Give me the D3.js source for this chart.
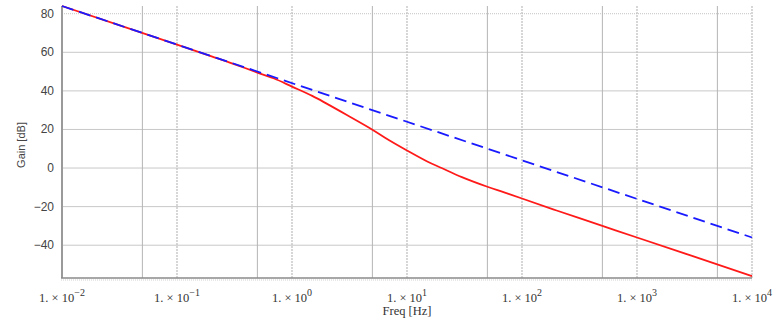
<!DOCTYPE html>
<html>
<head>
<meta charset="utf-8">
<script src="https://cdn.jsdelivr.net/npm/d3@7.9.0/dist/d3.min.js"></script>
<style>
  body { margin: 0; background: #fff; }
  svg { display: block; }
</style>
</head>
<body>
<svg id="chart" width="780" height="322"></svg>
<script>
// Frequency [Hz] vs gain [dB]
const decades = [-2, -1, 0, 1, 2, 3, 4];
const halfTicks = [0.05, 0.5, 5, 50, 500, 5000];
const gainTicks = [-40, -20, 0, 20, 40, 60, 80];

const redFreq = [0.01, 0.1, 0.2, 0.3, 0.5, 0.7, 1, 1.5, 2, 3, 5, 7, 10, 15, 20, 30, 50, 70, 100, 200, 500, 1000, 10000];
const redGain = [84, 64, 57.9, 54.3, 49.5, 46.4, 42.2, 37.4, 33.4, 27.5, 19.9, 14.4, 9.1, 3.4, 0, -4.7, -9.7, -12.6, -15.8, -22, -30, -36, -56];

const blueFreq = [0.01, 10000];
const blueGain = [84, -36];

const svg = d3.select('#chart');
const x = d3.scaleLog().domain([0.01, 1e4]).range([62, 752]);
const y = d3.scaleLinear().domain([-57, 84]).range([278, 6]);

// grid
const grid = svg.append('g');
grid.selectAll('line.h').data(gainTicks).join('line')
  .attr('x1', x.range()[0]).attr('x2', x.range()[1])
  .attr('y1', d => y(d)).attr('y2', d => y(d))
  .attr('stroke', d => d === 80 ? '#c4c4c4' : '#c8c8c8')
  .attr('stroke-dasharray', d => d === 80 ? '1,1' : null)
  .attr('stroke-width', 1);
grid.selectAll('line.v5').data(halfTicks).join('line')
  .attr('x1', d => x(d)).attr('x2', d => x(d))
  .attr('y1', y.range()[0]).attr('y2', y.range()[1])
  .attr('stroke', '#b4b4b4').attr('stroke-width', 1);
grid.selectAll('line.vd').data(decades.slice(1)).join('line')
  .attr('x1', d => x(Math.pow(10, d))).attr('x2', d => x(Math.pow(10, d)))
  .attr('y1', y.range()[0]).attr('y2', y.range()[1])
  .attr('stroke', '#bcbcbc').attr('stroke-dasharray', '2,1').attr('stroke-width', 1.2);

// axes frame
svg.append('line').attr('x1', 62).attr('x2', 62).attr('y1', 278).attr('y2', 6)
  .attr('stroke', '#9a9a9a').attr('stroke-width', 2);
svg.append('line').attr('x1', 61).attr('x2', 752).attr('y1', 278).attr('y2', 278)
  .attr('stroke', '#8a8a8a').attr('stroke-width', 1.5);
svg.append('line').attr('x1', 61).attr('x2', 752).attr('y1', 280).attr('y2', 280)
  .attr('stroke', '#cfcfcf').attr('stroke-dasharray', '1,1');

// y tick labels
svg.append('g').selectAll('text').data(gainTicks).join('text')
  .attr('x', 54).attr('y', d => y(d) + 4)
  .attr('text-anchor', 'end')
  .attr('font-family', 'Liberation Sans, Arial, sans-serif')
  .attr('font-size', 12).attr('fill', '#444')
  .text(d => d < 0 ? '\u2212' + Math.abs(d) : d);

// x tick labels: "1. × 10^n"
const xl = svg.append('g').selectAll('text').data(decades).join('text')
  .attr('x', d => x(Math.pow(10, d)))
  .attr('y', 302)
  .attr('text-anchor', 'middle')
  .attr('font-family', 'Liberation Serif, Times New Roman, serif')
  .attr('font-size', 12.5).attr('fill', '#333');
xl.append('tspan').text('1. \u00d7 10');
xl.append('tspan').attr('dy', -6).attr('font-size', 10)
  .text(d => d < 0 ? '\u2212' + Math.abs(d) : d);

// axis titles
svg.append('text').attr('x', 407).attr('y', 315).attr('text-anchor', 'middle')
  .attr('font-family', 'Liberation Serif, Times New Roman, serif')
  .attr('font-size', 12.5).attr('fill', '#333').text('Freq [Hz]');
svg.append('text').attr('transform', 'translate(25,145) rotate(-90)')
  .attr('text-anchor', 'middle')
  .attr('font-family', 'Liberation Sans, Arial, sans-serif')
  .attr('font-size', 11).attr('fill', '#444').text('Gain [dB]');

// curves
const line = d3.line().x(d => x(d[0])).y(d => y(d[1])).curve(d3.curveCatmullRom.alpha(0.5));
svg.append('path').datum(d3.zip(redFreq, redGain))
  .attr('d', line).attr('fill', 'none')
  .attr('stroke', '#ff1a1a').attr('stroke-width', 1.8);
svg.append('path').datum(d3.zip(blueFreq, blueGain))
  .attr('d', line).attr('fill', 'none')
  .attr('stroke', '#1a1aff').attr('stroke-width', 1.8)
  .attr('stroke-dasharray', '12,6');
</script>
</body>
</html>
